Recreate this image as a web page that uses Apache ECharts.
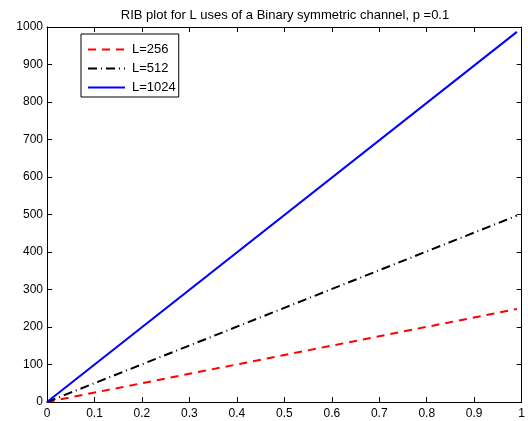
<!DOCTYPE html>
<html>
<head>
<meta charset="utf-8">
<script src="https://cdn.jsdelivr.net/npm/echarts@6/dist/echarts.min.js"></script>
<style>html,body{margin:0;padding:0;background:#fff}#c{width:528px;height:421px}</style>
</head>
<body>
<div id="c"></div>
<script>
var titleText = 'RIB plot for L uses of a Binary symmetric channel, p =0.1';
var seriesNames = ['L=256', 'L=512', 'L=1024'];
var xValues = [0, 0.99];
var rib256 = [0, 248];
var rib512 = [0, 497];
var rib1024 = [0, 987];
var xTicks = [0, 0.1, 0.2, 0.3, 0.4, 0.5, 0.6, 0.7, 0.8, 0.9, 1];
var yTicks = [0, 100, 200, 300, 400, 500, 600, 700, 800, 900, 1000];

function pts(ys) { return xValues.map(function (x, i) { return [x, ys[i]]; }); }

var font = 'Liberation Sans, Arial, Helvetica, sans-serif';
var axisCommon = {
  axisLine: { show: true, onZero: false, lineStyle: { color: '#000', width: 1 } },
  axisTick: { show: true, inside: true, length: 5, lineStyle: { color: '#000' } },
  splitLine: { show: false }
};
var chart = echarts.init(document.getElementById('c'));
chart.setOption({
  animation: false,
  backgroundColor: '#fff',
  title: {
    text: titleText, left: 280, top: 4, textAlign: 'center',
    textStyle: { fontFamily: font, fontSize: 13, fontWeight: 'normal', color: '#000' }
  },
  grid: { left: 47, right: 5, top: 27, bottom: 19 },
  legend: {
    left: 81, top: 34, orient: 'vertical',
    padding: [9, 3, 3, 6], itemGap: 6, itemWidth: 37, itemHeight: 13,
    borderColor: '#000', borderWidth: 1, backgroundColor: '#fff',
    itemStyle: { opacity: 0 },
    textStyle: { fontFamily: font, fontSize: 13, color: '#000', padding: [0, 0, 0, 2] },
    data: seriesNames
  },
  xAxis: [
    Object.assign({ type: 'value', min: 0, max: 1, interval: 0.1, position: 'bottom',
      axisLabel: { color: '#000', fontFamily: font, fontSize: 12, margin: 6,
        formatter: function (v) { return xTicks.indexOf(+v.toFixed(1)) >= 0 ? String(+v.toFixed(1)) : ''; } } }, axisCommon),
    Object.assign({ type: 'value', min: 0, max: 1, interval: 0.1, position: 'top',
      axisLabel: { show: false } }, axisCommon)
  ],
  yAxis: [
    Object.assign({ type: 'value', min: 0, max: 1000, interval: 100, position: 'left',
      axisLabel: { color: '#000', fontFamily: font, fontSize: 12, margin: 4,
        formatter: function (v) { return yTicks.indexOf(v) >= 0 ? String(v) : ''; } } }, axisCommon),
    Object.assign({ type: 'value', min: 0, max: 1000, interval: 100, position: 'right',
      axisLabel: { show: false } }, axisCommon)
  ],
  series: [
    { name: seriesNames[0], type: 'line', data: pts(rib256), symbol: 'none', color: '#ff0000',
      lineStyle: { color: '#ff0000', width: 2, type: [8, 6] } },
    { name: seriesNames[1], type: 'line', data: pts(rib512), symbol: 'none', color: '#000000',
      lineStyle: { color: '#000000', width: 2, type: [9, 4, 1, 4] } },
    { name: seriesNames[2], type: 'line', data: pts(rib1024), symbol: 'none', color: '#0000ff',
      lineStyle: { color: '#0000ff', width: 2 } }
  ]
});
</script>
</body>
</html>
